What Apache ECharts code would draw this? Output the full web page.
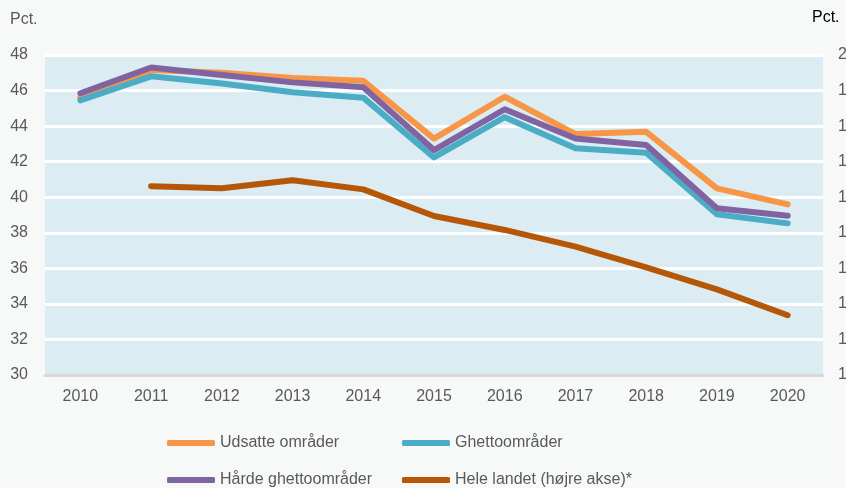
<!DOCTYPE html>
<html>
<head>
<meta charset="utf-8">
<script src="https://cdn.jsdelivr.net/npm/echarts@6/dist/echarts.min.js"></script>
<style>
  html, body { margin: 0; padding: 0; background: #f7f9f9; }
  #main { width: 846px; height: 488px; }
</style>
</head>
<body>
<div id="main"></div>
<script>
var years = ['2010', '2011', '2012', '2013', '2014', '2015', '2016', '2017', '2018', '2019', '2020'];
var udsatte = [45.6, 47.15, 47.0, 46.7, 46.55, 43.3, 45.65, 43.55, 43.68, 40.5, 39.6];
var ghetto = [45.45, 46.8, 46.4, 45.9, 45.6, 42.24, 44.5, 42.75, 42.5, 39.04, 38.53];
var haarde = [45.85, 47.3, 46.87, 46.46, 46.18, 42.65, 44.95, 43.3, 42.94, 39.38, 38.96];
// højre akse
var heleLandet = [null, 16.31, 16.25, 16.48, 16.22, 15.47, 15.08, 14.61, 14.03, 13.41, 12.68];

var txt = '#595959';
var font = 'Liberation Sans, Arial, sans-serif';

function serie(name, data, color, axis) {
    return {
        name: name,
        type: 'line',
        yAxisIndex: axis,
        data: data,
        showSymbol: false,
        connectNulls: false,
        lineStyle: { color: color, width: 6, cap: 'round', join: 'round' },
        itemStyle: { color: color }
    };
}

// en legend pr. punkt, så kolonnerne flugter
function leg(name, left, top) {
    return {
        data: [name],
        left: left, top: top,
        icon: 'roundRect', itemWidth: 48, itemHeight: 6,
        textStyle: { color: txt, fontSize: 16, fontFamily: font }
    };
}

var option = {
    backgroundColor: '#f7f9f9',
    animation: false,
    textStyle: { fontFamily: font },
    grid: {
        left: 45, right: 23, top: 55, bottom: 113,
        outerBoundsMode: 'none',
        show: true, backgroundColor: '#dbedf3', borderWidth: 0
    },
    graphic: [
        { type: 'text', left: 10, top: 12, style: { text: 'Pct.', fill: txt, font: '16px ' + font } },
        { type: 'text', left: 812, top: 10, style: { text: 'Pct.', fill: '#000', font: '16px ' + font } }
    ],
    legend: [
        leg('Udsatte områder', 162, 430),
        leg('Ghettoområder', 397, 430),
        leg('Hårde ghettoområder', 162, 467),
        leg('Hele landet (højre akse)*', 397, 467)
    ],
    xAxis: {
        type: 'category',
        data: years,
        boundaryGap: true,
        axisLine: { show: true, lineStyle: { color: '#d9d9d9', width: 3 } },
        axisTick: { show: false },
        axisLabel: { color: txt, fontSize: 16, margin: 14, fontFamily: font }
    },
    yAxis: [
        {
            type: 'value', min: 30, max: 48, interval: 2,
            axisLine: { show: false }, axisTick: { show: false },
            axisLabel: { color: txt, fontSize: 16, margin: 17, fontFamily: font },
            splitLine: { show: true, lineStyle: { color: '#ffffff', width: 3 } }
        },
        {
            type: 'value', min: 11, max: 20, interval: 1, position: 'right',
            axisLine: { show: false }, axisTick: { show: false },
            axisLabel: { color: txt, fontSize: 16, margin: 15, fontFamily: font, align: 'left' },
            splitLine: { show: false }
        }
    ],
    series: [
        serie('Udsatte områder', udsatte, '#f79646', 0),
        serie('Ghettoområder', ghetto, '#4bacc6', 0),
        serie('Hårde ghettoområder', haarde, '#8064a2', 0),
        serie('Hele landet (højre akse)*', heleLandet, '#b65708', 1)
    ]
};

var myChart = echarts.init(document.getElementById('main'));
myChart.setOption(option);
</script>
</body>
</html>
